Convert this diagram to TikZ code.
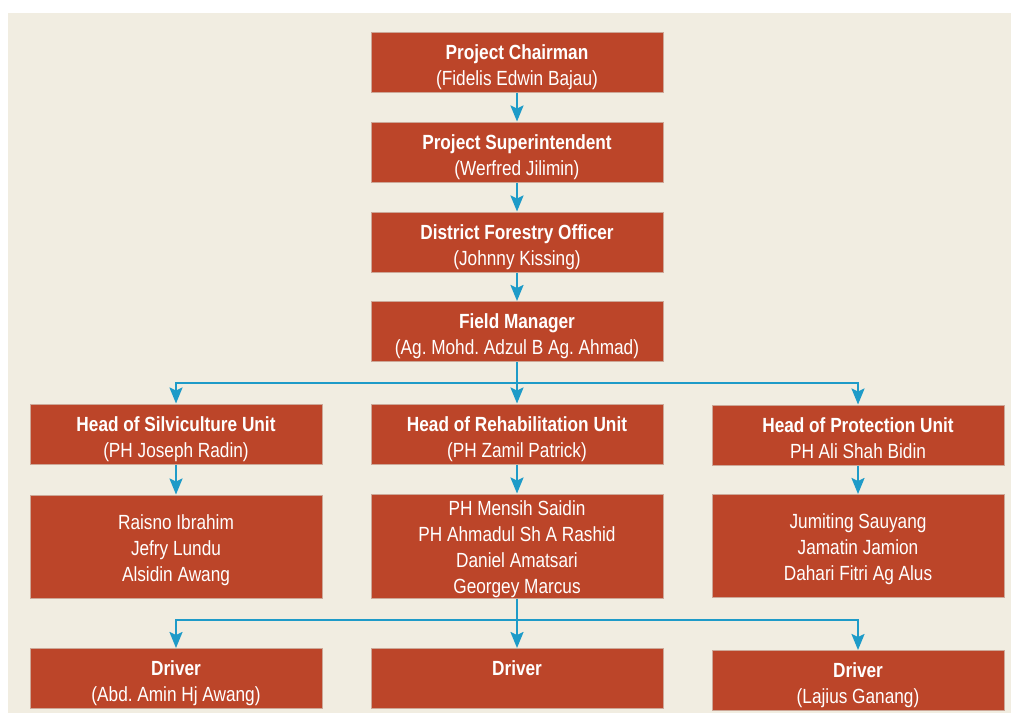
\documentclass[tikz,border=0pt]{standalone}
\usepackage{fontspec}
\setmainfont{Liberation Sans}[FakeStretch=0.84]
\usetikzlibrary{arrows.meta}
\frenchspacing
\definecolor{boxred}{HTML}{BC4529}
\definecolor{boxedge}{HTML}{CDA797}
\definecolor{bgbeige}{HTML}{F1EDE1}
\definecolor{linkblue}{HTML}{1E9BC8}
\newcommand{\btext}[2][5pt]{\raisebox{-#1}[\height][\depth]{\begin{tabular}{@{}c@{}}#2\end{tabular}}}
\tikzset{
  orgbox/.style={draw=boxedge, line width=1pt, fill=boxred, text=white,
    minimum width=292pt, minimum height=60pt, inner sep=0pt,
    font=\fontsize{20.5}{26}\selectfont},
  listbox/.style={orgbox, minimum height=103pt},
  link/.style={draw=linkblue, line width=2.2pt},
  arr/.style={link, -{Stealth[length=16pt,width=13pt,inset=3pt]}}
}
\begin{document}
\begin{tikzpicture}[x=1pt,y=-1pt]
\useasboundingbox (0,0) rectangle (1011,713);
\fill[white] (0,0) rectangle (1011,713);
\fill[bgbeige] (8,13) rectangle (1011,713);

\node[orgbox] (chair) at (517,62) {\btext{\textbf{Project Chairman}\\(Fidelis Edwin Bajau)}};
\node[orgbox] (super) at (517,152) {\btext{\textbf{Project Superintendent}\\(Werfred Jilimin)}};
\node[orgbox] (dfo) at (517,242) {\btext{\textbf{District Forestry Officer}\\(Johnny Kissing)}};
\node[orgbox] (fm) at (517,331.5) {\btext{\textbf{Field Manager}\\(Ag. Mohd. Adzul B Ag. Ahmad)}};

\node[orgbox] (sil) at (176,434) {\btext{\textbf{Head of Silviculture Unit}\\(PH Joseph Radin)}};
\node[orgbox] (reh) at (517,434) {\btext{\textbf{Head of Rehabilitation Unit}\\(PH Zamil Patrick)}};
\node[orgbox] (pro) at (858,435) {\btext{\textbf{Head of Protection Unit}\\PH Ali Shah Bidin}};

\node[listbox] (sillist) at (176,546.5) {\btext[3.5pt]{Raisno Ibrahim\\Jefry Lundu\\Alsidin Awang}};
\node[listbox] (rehlist) at (517,546) {\btext[3.5pt]{PH Mensih Saidin\\PH Ahmadul Sh A Rashid\\Daniel Amatsari\\Georgey Marcus}};
\node[listbox] (prolist) at (858,546) {\btext[3.5pt]{Jumiting Sauyang\\Jamatin Jamion\\Dahari Fitri Ag Alus}};

\node[orgbox] (drv1) at (176,678.5) {\btext{\textbf{Driver}\\(Abd. Amin Hj Awang)}};
\node[orgbox] (drv2) at (517,678.5) {\btext{\textbf{Driver}\\\mbox{}}};
\node[orgbox] (drv3) at (858,680.5) {\btext{\textbf{Driver}\\(Lajius Ganang)}};

\draw[arr] (chair) -- (super);
\draw[arr] (super) -- (dfo);
\draw[arr] (dfo) -- (fm);

\coordinate (bus1) at (517,383);
\draw[link] (fm.south) -- (bus1);
\draw[arr] (bus1) -| (sil.north);
\draw[arr] (bus1) -- (reh.north);
\draw[arr] (bus1) -| (pro.north);

\draw[arr] (sil) -- (sillist);
\draw[arr] (reh) -- (rehlist);
\draw[arr] (pro) -- (prolist);

\coordinate (bus2) at (517,620);
\draw[link] (rehlist.south) -- (bus2);
\draw[arr] (bus2) -| (drv1.north);
\draw[arr] (bus2) -- (drv2.north);
\draw[arr] (bus2) -| (drv3.north);
\end{tikzpicture}
\end{document}
